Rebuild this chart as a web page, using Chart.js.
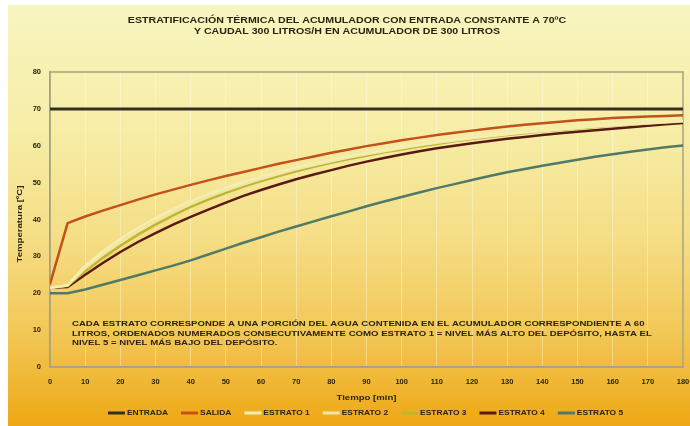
<!DOCTYPE html>
<html>
<head>
<meta charset="utf-8">
<script src="https://cdn.jsdelivr.net/npm/chart.js@4/dist/chart.umd.min.js"></script>
<style>
  html, body { margin: 0; padding: 0; background: #ffffff; }
  #wrap { width: 690px; height: 426px; }
</style>
</head>
<body>
<div id="wrap"><canvas id="estratChart" width="690" height="426"></canvas></div>
<script>
// Tiempo en minutos (cada 5 min)
const tiempos = [0, 5, 10, 15, 20, 25, 30, 35, 40, 45, 50, 55, 60, 65, 70, 75, 80, 85, 90,
  95, 100, 105, 110, 115, 120, 125, 130, 135, 140, 145, 150, 155, 160, 165, 170, 175, 180];

// Temperaturas [ºC]
const entrada = [70, 70, 70, 70, 70, 70, 70, 70, 70, 70, 70, 70, 70, 70, 70, 70, 70, 70, 70,
  70, 70, 70, 70, 70, 70, 70, 70, 70, 70, 70, 70, 70, 70, 70, 70, 70, 70];
const salida = [22.5, 39, 40.8, 42.4, 43.9, 45.4, 46.8, 48.1, 49.4, 50.6, 51.8, 52.9, 54.0, 55.1, 56.1, 57.1, 58.1, 59.0, 59.9,
  60.7, 61.5, 62.2, 62.9, 63.5, 64.1, 64.7, 65.2, 65.7, 66.1, 66.5, 66.9, 67.2, 67.5, 67.7, 67.9, 68.1, 68.3];
const estrato1 = [21.5, 22.2, 27.4, 31.3, 34.7, 37.7, 40.4, 42.8, 45.0, 46.9, 48.6, 50.2, 51.6, 52.9, 54.1, 55.2, 56.2, 57.1, 58.0,
  58.8, 59.6, 60.3, 61.0, 61.6, 62.2, 62.7, 63.2, 63.7, 64.1, 64.5, 64.9, 65.3, 65.6, 65.9, 66.2, 66.5, 66.8];
const estrato2 = [21.5, 22.1, 26.8, 30.5, 33.8, 36.8, 39.5, 41.9, 44.2, 46.2, 47.9, 49.5, 51.0, 52.3, 53.6, 54.7, 55.8, 56.8, 57.7,
  58.5, 59.3, 60.1, 60.8, 61.4, 62.0, 62.6, 63.1, 63.6, 64.0, 64.4, 64.8, 65.2, 65.5, 65.8, 66.1, 66.4, 66.7];
const estrato3 = [21.5, 22.0, 26.0, 29.6, 32.9, 35.9, 38.6, 41.1, 43.4, 45.4, 47.2, 48.9, 50.4, 51.8, 53.1, 54.3, 55.4, 56.4, 57.3,
  58.2, 59.0, 59.8, 60.5, 61.2, 61.8, 62.4, 62.9, 63.4, 63.9, 64.3, 64.7, 65.1, 65.4, 65.7, 66.0, 66.3, 66.6];
const estrato4 = [21.5, 21.7, 25.0, 28.2, 31.2, 33.9, 36.3, 38.6, 40.7, 42.7, 44.6, 46.4, 48.0, 49.5, 50.9, 52.2, 53.4, 54.6, 55.7,
  56.7, 57.6, 58.5, 59.3, 60.0, 60.7, 61.3, 61.9, 62.4, 62.9, 63.4, 63.8, 64.2, 64.6, 65.0, 65.4, 65.8, 66.2];
const estrato5 = [20, 20, 21.0, 22.3, 23.6, 24.9, 26.2, 27.5, 28.9, 30.5, 32.1, 33.7, 35.2, 36.7, 38.1, 39.5, 40.9, 42.2, 43.6,
  44.9, 46.1, 47.3, 48.5, 49.6, 50.7, 51.8, 52.8, 53.7, 54.6, 55.4, 56.2, 57.0, 57.7, 58.4, 59.0, 59.6, 60.1];

const xTicks = [0, 10, 20, 30, 40, 50, 60, 70, 80, 90, 100, 110, 120, 130, 140, 150, 160, 170, 180];
const yTicks = [0, 10, 20, 30, 40, 50, 60, 70, 80];

const titulo = [
  "ESTRATIFICACIÓN TÉRMICA DEL ACUMULADOR CON ENTRADA CONSTANTE A 70ºC",
  "Y CAUDAL 300 LITROS/H EN ACUMULADOR DE 300 LITROS",
];
const nota = [
  "CADA ESTRATO CORRESPONDE A UNA PORCIÓN DEL AGUA CONTENIDA EN EL ACUMULADOR CORRESPONDIENTE A 60",
  "LITROS, ORDENADOS NUMERADOS CONSECUTIVAMENTE COMO ESTRATO 1 = NIVEL MÁS ALTO DEL DEPÓSITO, HASTA EL",
  "NIVEL 5 = NIVEL MÁS BAJO DEL DEPÓSITO.",
];
const tituloX = "Tiempo [min]";
const tituloY = "Temperatura [ºC]";

const FONT = "'Liberation Sans', Arial, sans-serif";
const TXT = "#2a2410";

const serie = (vals) => vals.map((v, i) => ({ x: tiempos[i], y: v }));

function linea(label, vals, color, width) {
  return {
    label: label,
    data: serie(vals),
    borderColor: color,
    backgroundColor: color,
    borderWidth: width,
    pointRadius: 0,
    tension: 0,
    fill: false,
  };
}

const datasets = [
  linea("ENTRADA", entrada, "#35301c", 3),
  linea("SALIDA", salida, "#c4501c", 2.5),
  linea("ESTRATO 1", estrato1, "#f6eeb0", 2.5),
  linea("ESTRATO 2", estrato2, "#f2e6a4", 2.5),
  linea("ESTRATO 3", estrato3, "#bdb630", 2.5),
  linea("ESTRATO 4", estrato4, "#5a1a12", 2.5),
  linea("ESTRATO 5", estrato5, "#4f7a68", 2.5),
];

// texto ensanchado en horizontal (sx), devuelve el ancho ocupado
function texto(ctx, t, x, y, sx, align) {
  ctx.save();
  ctx.translate(x, y);
  ctx.scale(sx, 1);
  ctx.textAlign = align || "left";
  ctx.fillText(t, 0, 0);
  ctx.restore();
  return ctx.measureText(t).width * sx;
}

// Fondo degradado, marco del area de trazado, titulos, nota y leyenda
const decoracion = {
  id: "decoracion",
  beforeDraw(chart) {
    const { ctx, width, height } = chart;
    ctx.save();
    ctx.fillStyle = "#ffffff";
    ctx.fillRect(0, 0, width, height);
    const g = ctx.createLinearGradient(0, 5, 0, height);
    g.addColorStop(0, "#f8f5c0");
    g.addColorStop(0.3, "#f6eda6");
    g.addColorStop(0.55, "#f5de86");
    g.addColorStop(0.78, "#f2c756");
    g.addColorStop(1, "#eea814");
    ctx.fillStyle = g;
    ctx.fillRect(8, 5, width - 8, height - 5);
    ctx.restore();
  },
  beforeDatasetsDraw(chart) {
    const { ctx, chartArea: a } = chart;
    ctx.save();
    ctx.strokeStyle = "#a8a282";
    ctx.lineWidth = 1.5;
    ctx.strokeRect(a.left, a.top, a.right - a.left, a.bottom - a.top);
    ctx.restore();
  },
  afterDraw(chart) {
    const { ctx, chartArea: a } = chart;
    ctx.save();
    ctx.fillStyle = TXT;
    ctx.textBaseline = "middle";

    ctx.font = "bold 9px " + FONT;
    texto(ctx, titulo[0], 347, 21, 1.18, "center");
    texto(ctx, titulo[1], 347, 32, 1.18, "center");

    ctx.font = "bold 8px " + FONT;
    nota.forEach((t, i) => texto(ctx, t, 72, 324 + i * 9.5, 1.2, "left"));

    // titulos de ejes
    ctx.font = "bold 8px " + FONT;
    texto(ctx, tituloX, (a.left + a.right) / 2, 398, 1.2, "center");
    ctx.save();
    ctx.translate(20, 224);
    ctx.rotate(-Math.PI / 2);
    texto(ctx, tituloY, 0, 0, 1.2, "center");
    ctx.restore();

    // Leyenda
    ctx.font = "bold 7px " + FONT;
    let x = 108;
    const y = 413;
    chart.data.datasets.forEach((ds) => {
      ctx.strokeStyle = ds.borderColor;
      ctx.lineWidth = 3;
      ctx.beginPath();
      ctx.moveTo(x, y);
      ctx.lineTo(x + 17, y);
      ctx.stroke();
      ctx.fillStyle = TXT;
      const w = texto(ctx, ds.label, x + 19, y + 0.5, 1.2, "left");
      x += 19 + w + 13;
    });
    ctx.restore();
  },
};

new Chart(document.getElementById("estratChart"), {
  type: "line",
  data: { datasets: datasets },
  options: {
    responsive: false,
    animation: false,
    layout: { padding: { top: 72, left: 8, right: 7, bottom: 0 } },
    plugins: {
      legend: { display: false },
      tooltip: { enabled: false },
    },
    scales: {
      x: {
        type: "linear",
        min: 0,
        max: 180,
        afterBuildTicks: (s) => { s.ticks = xTicks.map((v) => ({ value: v })); },
        afterFit: (s) => {
          s.height = 59;
          s.paddingLeft = 0;
          s.paddingRight = 0;
        },
        grid: { color: "rgba(255,255,245,0.35)", lineWidth: 1, drawTicks: false },
        border: { color: "#a8a282", width: 1.5 },
        ticks: { padding: 10, color: TXT, font: { family: FONT, size: 7.5, weight: "bold" } },
      },
      y: {
        min: 0,
        max: 80,
        afterBuildTicks: (s) => { s.ticks = yTicks.map((v) => ({ value: v })); },
        afterFit: (s) => {
          s.width = 42;
          s.paddingTop = 0;
          s.paddingBottom = 0;
        },
        grid: { display: false, drawTicks: false },
        border: { color: "#a8a282", width: 1.5 },
        ticks: { padding: 9, color: TXT, font: { family: FONT, size: 7.5, weight: "bold" } },
      },
    },
  },
  plugins: [decoracion],
});
</script>
</body>
</html>
